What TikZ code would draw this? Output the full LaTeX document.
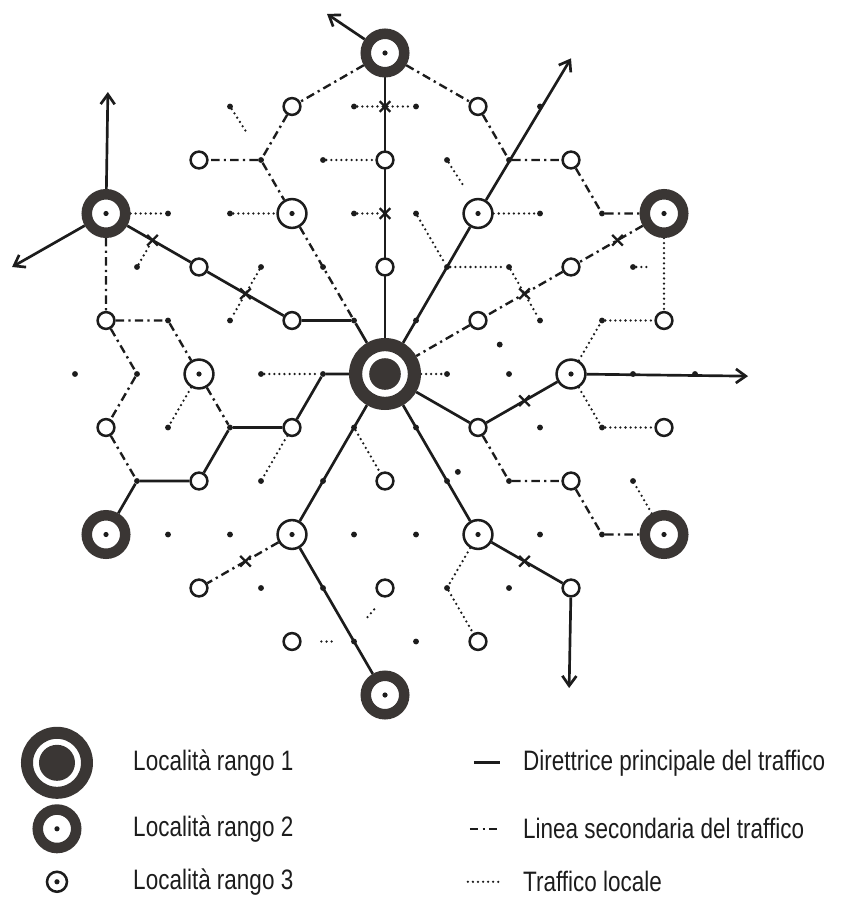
\documentclass[tikz,border=0pt]{standalone}
\usepackage{fontspec}
\setmainfont{Liberation Sans}
\newfontfamily\legendfont[FakeStretch=0.8]{Liberation Sans}
\usepackage{tikz}
\usetikzlibrary{arrows.meta, shapes.misc, backgrounds}
\definecolor{MapInk}{RGB}{28,28,28}
\definecolor{MapDark}{RGB}{58,54,52}

\begin{document}
\begin{tikzpicture}[
      primary/.style={draw=MapInk, line width=1.9pt},
      secondary/.style={draw=MapInk, line width=1.7pt,
                        dash pattern=on 6pt off 3pt on 1.6pt off 3pt},
      localtr/.style={draw=MapInk, line width=1.8pt, line cap=round,
                      dash pattern=on 0pt off 3.6pt},
      arrowed/.style={-{Straight Barb[length=7pt, width=10pt]}},
      hub/.style={circle, draw=MapDark, fill=white, line width=0.33cm,
                  minimum size=1.47cm, inner sep=0pt,
                  path picture={\fill[MapDark] (path picture bounding box.center) circle (0.395cm);}},
      rtwo/.style={circle, draw=MapDark, fill=white, line width=0.2625cm,
                   minimum size=0.9625cm, inner sep=0pt,
                   path picture={\fill[MapInk] (path picture bounding box.center) circle (0.065cm);}},
      rbig/.style={circle, draw=MapInk, fill=white, line width=1.8pt,
                   minimum size=0.72cm, inner sep=0pt,
                   path picture={\fill[MapInk] (path picture bounding box.center) circle (0.065cm);}},
      rsmall/.style={circle, draw=MapInk, fill=white, line width=1.8pt,
                     minimum size=0.42cm, inner sep=0pt},
      spot/.style={circle, fill=MapInk, inner sep=0pt, minimum size=4.2pt},
      crossmark/.style={cross out, draw=MapInk, line width=1.6pt,
                        minimum size=6pt, inner sep=0pt},
      legtext/.style={anchor=west, font=\fontsize{20}{24}\selectfont\legendfont,
                      text=MapInk, inner sep=0pt}
    ]
    \useasboundingbox (0,0) rectangle (21.05,-22.7);

    \begin{scope}[shift={(9.625,-9.35)}, x=0.775cm, y=-1.3375cm]
      % Rank 1
      \node[hub] (C) at (0,0) {};

      % Rank 2
      \node[rtwo] (rN)  at (0,-6) {};
      \node[rtwo] (rNW) at (-9,-3) {};
      \node[rtwo] (rNE) at (9,-3) {};
      \node[rtwo] (rSW) at (-9,3) {};
      \node[rtwo] (rSE) at (9,3) {};
      \node[rtwo] (rS)  at (0,6) {};

      % Rank 3
      \node[rbig] (bNW) at (-3,-3) {};
      \node[rbig] (bNE) at (3,-3) {};
      \node[rbig] (bW)  at (-6,0) {};
      \node[rbig] (bE)  at (6,0) {};
      \node[rbig] (bSW) at (-3,3) {};
      \node[rbig] (bSE) at (3,3) {};
      \foreach \c/\r in {-3/-5, 3/-5, -6/-4, 0/-4, 6/-4, -6/-2, 0/-2, 6/-2,
                         -9/-1, -3/-1, 3/-1, 9/-1, -9/1, -3/1, 3/1, 9/1,
                         -6/2, 0/2, 6/2, -6/4, 0/4, 6/4, -3/5, 3/5}
        \node[rsmall] (s\c_\r) at (\c,\r) {};

      % Points
      \foreach \c/\r in {-5/-5, -1/-5, 1/-5, 5/-5, -4/-4, -2/-4, 2/-4, 4/-4,
                         -7/-3, -5/-3, -1/-3, 1/-3, 5/-3, 7/-3,
                         -8/-2, -4/-2, -2/-2, 2/-2, 4/-2, 8/-2,
                         -7/-1, -5/-1, -1/-1, 1/-1, 5/-1, 7/-1,
                         -10/0, -8/0, -4/0, -2/0, 2/0, 4/0, 8/0, 10/0,
                         -7/1, -5/1, -1/1, 1/1, 5/1, 7/1,
                         -8/2, -4/2, -2/2, 2/2, 4/2, 8/2,
                         -7/3, -5/3, -1/3, 1/3, 5/3, 7/3,
                         -4/4, -2/4, 2/4, 4/4, -1/5, 1/5}
        \node[spot] (d\c_\r) at (\c,\r) {};
      \node[spot] (dA) at (3.7,-0.55) {};
      \node[spot] (dB) at (2.35,1.83) {};

      % Crossings
      \node[crossmark] (xN1)  at (0,-5) {};
      \node[crossmark] (xN2)  at (0,-3) {};
      \node[crossmark] (xNW1) at (-7.5,-2.5) {};
      \node[crossmark] (xNW2) at (-4.5,-1.5) {};
      \node[crossmark] (xNE1) at (7.5,-2.5) {};
      \node[crossmark] (xNE2) at (4.5,-1.5) {};
      \node[crossmark] (xE)   at (4.5,0.5) {};
      \node[crossmark] (xSE)  at (4.5,3.5) {};
      \node[crossmark] (xSW)  at (-4.5,3.5) {};

      % Free ends
      \coordinate (aN)   at (-1.87,-6.73);
      \coordinate (aNWu) at (-8.94,-5.27);
      \coordinate (aNWl) at (-12.03,-2.0);
      \coordinate (aNE)  at (6.0,-5.9);
      \coordinate (aE)   at (11.71,0.04);
      \coordinate (aS)   at (5.94,5.87);
      \coordinate (fA)   at (-4.5,-4.55);
      \coordinate (fB)   at (2.55,-3.5);
      \coordinate (fC1)  at (-0.35,4.4);
      \coordinate (fC2)  at (-0.65,4.6);
      \coordinate (fD1)  at (-2.05,5);
      \coordinate (fD2)  at (-1.6,5);
      \coordinate (fE)   at (8.45,-2);

      \begin{scope}[on background layer]
        % Main traffic lines
        \draw[primary] (C) -- (rN);
        \draw[primary, arrowed] (rN) -- (aN);
        \draw[primary] (C) -- (bNE);
        \draw[primary, arrowed] (bNE) -- (aNE);
        \draw[primary] (rNW) -- (s-6_-2) -- (s-3_-1) -- (d-1_-1) -- (C);
        \draw[primary, arrowed] (rNW) -- (aNWu);
        \draw[primary, arrowed] (rNW) -- (aNWl);
        \draw[primary] (C) -- (d-2_0) -- (s-3_1) -- (d-5_1) -- (s-6_2) -- (d-8_2) -- (rSW);
        \draw[primary] (C) -- (bSW) -- (rS);
        \draw[primary] (C) -- (bSE) -- (s6_4);
        \draw[primary, arrowed] (s6_4) -- (aS);
        \draw[primary] (C) -- (s3_1) -- (bE);
        \draw[primary, arrowed] (bE) -- (aE);

        % Secondary lines
        \draw[secondary] (rN) -- (s-3_-5) -- (d-4_-4) -- (s-6_-4);
        \draw[secondary] (d-4_-4) -- (bNW) -- (d-1_-1);
        \draw[secondary] (rNW) -- (s-9_-1) -- (d-7_-1) -- (bW) -- (d-5_1);
        \draw[secondary] (s-9_-1) -- (d-8_0) -- (s-9_1) -- (d-8_2);
        \draw[secondary] (bSW) -- (s-6_4);
        \draw[secondary] (rN) -- (s3_-5) -- (d4_-4) -- (s6_-4) -- (d7_-3) -- (rNE);
        \draw[secondary] (rNE) -- (s6_-2) -- (s3_-1) -- (C);
        \draw[secondary] (s3_1) -- (d4_2) -- (s6_2) -- (d7_3) -- (rSE);

        % Local traffic
        \draw[localtr] (d-5_-5) -- (fA);
        \draw[localtr] (d-1_-5) -- (d1_-5);
        \draw[localtr] (d-2_-4) -- (s0_-4);
        \draw[localtr] (rNW) -- (d-7_-3);
        \draw[localtr] (d-5_-3) -- (bNW);
        \draw[localtr] (d-1_-3) -- (xN2);
        \draw[localtr] (d1_-3) -- (d2_-2);
        \draw[localtr] (d-8_-2) -- (xNW1);
        \draw[localtr] (d-4_-2) -- (d-5_-1);
        \draw[localtr] (d-4_0) -- (d-2_0);
        \draw[localtr] (bW) -- (d-7_1);
        \draw[localtr] (s-3_1) -- (d-4_2);
        \draw[localtr] (d-1_1) -- (s0_2);
        \draw[localtr] (fC1) -- (fC2);
        \draw[localtr] (fD1) -- (fD2);
        \draw[localtr] (bSE) -- (d2_4) -- (s3_5);
        \draw[localtr] (C) -- (d2_0);
        \draw[localtr] (d2_-2) -- (d4_-2) -- (d5_-1);
        \draw[localtr] (d2_-4) -- (fB);
        \draw[localtr] (bNE) -- (d5_-3);
        \draw[localtr] (rNE) -- (s9_-1);
        \draw[localtr] (bE) -- (d7_-1) -- (s9_-1);
        \draw[localtr] (bE) -- (d7_1) -- (s9_1);
        \draw[localtr] (rSE) -- (d8_2);
        \draw[localtr] (d8_-2) -- (fE);
      \end{scope}
    \end{scope}

    % Legend
    \begin{scope}[x=0.025cm, y=-0.025cm]
      \node[hub, minimum size=1.5cm, line width=0.3cm,
            path picture={\fill[MapDark] (path picture bounding box.center) circle (0.45cm);}]
            (lgOne) at (57,763) {};
      \node[rtwo] (lgTwo) at (57,829) {};
      \node[rsmall, minimum size=0.5cm,
            path picture={\fill[MapInk] (path picture bounding box.center) circle (0.065cm);}]
            (lgThree) at (57,882) {};
      \node[legtext] (tOne)   at (133,763) {Località rango 1};
      \node[legtext] (tTwo)   at (133,829) {Località rango 2};
      \node[legtext] (tThree) at (133,882) {Località rango 3};

      \coordinate (lsA1) at (474,763);  \coordinate (lsA2) at (500,763);
      \coordinate (lsB1) at (470,829);  \coordinate (lsB2) at (500,829);
      \coordinate (lsC1) at (468,882);  \coordinate (lsC2) at (500,882);
      \draw[primary]   (lsA1) -- (lsA2);
      \draw[secondary] (lsB1) -- (lsB2);
      \draw[localtr]   (lsC1) -- (lsC2);
      \node[legtext] (tMain)  at (523,763) {Direttrice principale del traffico};
      \node[legtext] (tSec)   at (523,829) {Linea secondaria del traffico};
      \node[legtext] (tLocal) at (523,882) {Traffico locale};
    \end{scope}
  \end{tikzpicture}
\end{document}
